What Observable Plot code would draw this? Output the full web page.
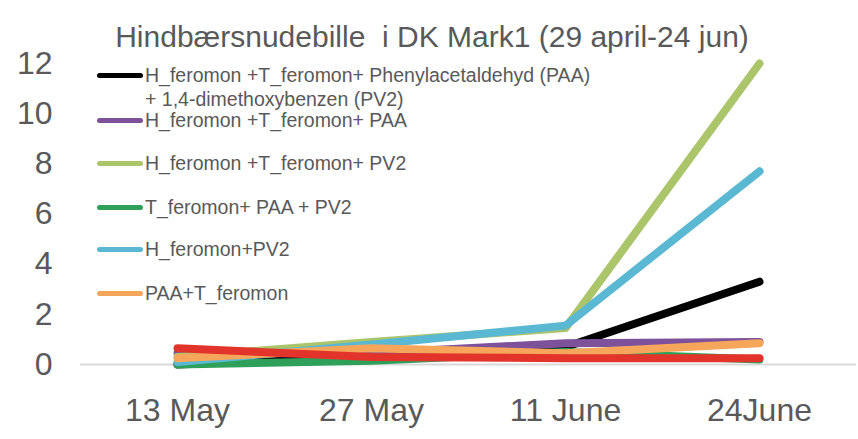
<!DOCTYPE html>
<html>
<head>
<meta charset="utf-8">
<script src="https://cdn.jsdelivr.net/npm/d3@7"></script>
<script src="https://cdn.jsdelivr.net/npm/@observablehq/plot@0.6"></script>
<style>
  body { margin: 0; background: #fff; }
  #wrap { position: relative; width: 858px; height: 439px; font-family: "Liberation Sans", Arial, sans-serif; }
  #title { position: absolute; left: 0; width: 864px; top: 20px; line-height: 34px; text-align: center; font-size: 30px; color: #595959; white-space: pre; }
  #legend { position: absolute; left: 97px; top: 0; }
  .li { position: absolute; white-space: pre; font-size: 19.5px; color: #595959; line-height: 24px; }
  .sw { position: absolute; width: 46px; height: 5px; border-radius: 3px; }
</style>
</head>
<body>
<div id="wrap">
  <div id="chart"></div>
  <div id="title">Hindbærsnudebille  i DK Mark1 (29 april-24 jun)</div>
  <div id="legend"></div>
</div>
<script>
const dates = ["13 May", "27 May", "11 June", "24June"];
const seriesNames = [
  "H_feromon +T_feromon+ Phenylacetaldehyd (PAA)\n+ 1,4-dimethoxybenzen (PV2)",
  "H_feromon +T_feromon+ PAA",
  "H_feromon +T_feromon+ PV2",
  "T_feromon+ PAA + PV2",
  "H_feromon+PV2",
  "PAA+T_feromon",
  "Other"
];
const seriesColors = ["#000000", "#7e519b", "#abc56b", "#2ea05a", "#5bb8d3", "#f6a65a", "#e2342a"];
const black = [0, 0.35, 0.7, 3.3];
const purple = [0.45, 0.45, 0.85, 0.9];
const lightGreen = [0.3, 0.9, 1.45, 12];
const green = [0, 0.15, 0.5, 0.2];
const blue = [0.1, 0.8, 1.55, 7.7];
const orange = [0.25, 0.65, 0.45, 0.85];
const red = [0.65, 0.3, 0.25, 0.25];
const yTicks = [0, 2, 4, 6, 8, 10, 12];

const allValues = [black, purple, lightGreen, green, blue, orange, red];
const rows = [];
allValues.forEach((vals, s) => vals.forEach((v, i) => rows.push({series: s, date: dates[i], value: v})));

const chart = Plot.plot({
  width: 858,
  height: 439,
  marginTop: 63,
  marginBottom: 75,
  marginLeft: 80,
  marginRight: 2,
  style: {fontFamily: "Liberation Sans, Arial, sans-serif", fontSize: "32px", color: "#595959", background: "#fff"},
  x: {type: "point", domain: dates, padding: 0.5, label: null, tickSize: 0, tickPadding: 34},
  y: {domain: [0, 12], ticks: yTicks, label: null, tickSize: 0, tickPadding: 28, tickFormat: d => String(d)},
  marks: [
    Plot.ruleY([0], {stroke: "#d9d9d9", strokeWidth: 2}),
    ...allValues.map((vals, s) =>
      Plot.line(rows.filter(r => r.series === s), {
        x: "date", y: "value", stroke: seriesColors[s], strokeWidth: 8,
        strokeLinecap: "round", strokeLinejoin: "round"
      })
    )
  ]
});
document.getElementById("chart").appendChild(chart);

// legend (inside plot area, top-left); the red series entry is cut off in the original
const legend = document.getElementById("legend");
const legendY = [75, 120, 163, 207, 249, 293];
seriesNames.slice(0, 6).forEach((name, i) => {
  const sw = document.createElement("div");
  sw.className = "sw";
  sw.style.left = "0px";
  sw.style.top = (legendY[i] - 2.5) + "px";
  sw.style.background = seriesColors[i];
  legend.appendChild(sw);
  const t = document.createElement("div");
  t.className = "li";
  t.style.left = "48px";
  t.style.top = (legendY[i] - 12) + "px";
  t.textContent = name;
  legend.appendChild(t);
});
</script>
</body>
</html>
